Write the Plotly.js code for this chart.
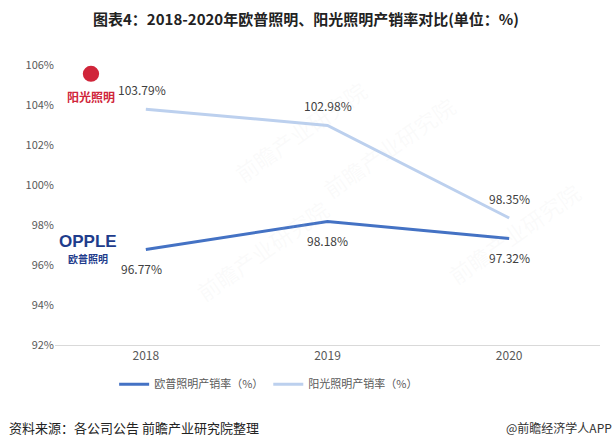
<!DOCTYPE html>
<html><head><meta charset="utf-8">
<script src="https://cdn.plot.ly/plotly-3.0.1.min.js"></script>
<style>body{margin:0;background:#fff}#c{width:612px;height:448px}</style>
</head><body><div id="c"></div>
<script>
const years = ['2018', '2019', '2020'];
const oppleRate = [96.77, 98.18, 97.32];
const yankonRate = [103.79, 102.98, 98.35];
const yTicks = [92, 94, 96, 98, 100, 102, 104, 106];
const seriesNames = ['欧普照明产销率（%）', '阳光照明产销率（%）'];

const font = 'Microsoft YaHei, "Noto Sans CJK SC", sans-serif';
const dark = '#4472c4', light = '#bcd0ee';

const traces = [
  {x: years, y: oppleRate, name: seriesNames[0], mode: 'lines', type: 'scatter',
   line: {color: dark, width: 3}},
  {x: years, y: yankonRate, name: seriesNames[1], mode: 'lines', type: 'scatter',
   line: {color: light, width: 3}}
];

const ann = [];
years.forEach((yr, i) => {
  ann.push({x: i, y: oppleRate[i], text: oppleRate[i].toFixed(2) + '%', showarrow: false,
    yshift: -19, xshift: i === 0 ? -4 : 0, font: {family: font, size: 12, color: '#404040'}});
  ann.push({x: i, y: yankonRate[i], text: yankonRate[i].toFixed(2) + '%', showarrow: false,
    yshift: 20, xshift: i === 0 ? -4 : 0, font: {family: font, size: 12, color: '#404040'}});
});
// logos as text
ann.push({xref: 'paper', yref: 'paper', x: 0.066, y: 0.889, text: '<b>阳光照明</b>', showarrow: false,
  font: {family: font, size: 12, color: '#d0253a'}, xanchor: 'center', yanchor: 'middle'});
ann.push({xref: 'paper', yref: 'paper', x: 0.06, y: 0.368, text: '<b>OPPLE</b>', showarrow: false,
  font: {family: 'Arial, sans-serif', size: 17, color: '#1e3c8c'}, xanchor: 'center', yanchor: 'middle'});
ann.push({xref: 'paper', yref: 'paper', x: 0.06, y: 0.31, text: '<b>欧普照明</b>', showarrow: false,
  font: {family: font, size: 10, color: '#1e3c8c'}, xanchor: 'center', yanchor: 'middle'});
// watermarks
const wm = [[0.38, 0.34], [0.75, 0.92], [0.98, 0.40], [0.45, 0.98]];
wm.forEach(p => ann.push({xref: 'paper', yref: 'paper', x: p[0], y: p[1], text: '前瞻产业研究院',
  showarrow: false, textangle: -35, font: {family: font, size: 22, color: 'rgba(210,210,210,0.10)'}}));
// footer
ann.push({xref: 'paper', yref: 'paper', x: -0.088, y: -0.295, xanchor: 'left', yanchor: 'middle',
  text: '资料来源：各公司公告 前瞻产业研究院整理', showarrow: false,
  font: {family: font, size: 13, color: '#222'}});
ann.push({xref: 'paper', yref: 'paper', x: 1.025, y: -0.295, xanchor: 'right', yanchor: 'middle',
  text: '@前瞻经济学人APP', showarrow: false, font: {family: font, size: 12, color: '#333'}});

const layout = {
  width: 612, height: 448,
  margin: {l: 55, r: 12, t: 65, b: 103},
  paper_bgcolor: '#fff', plot_bgcolor: '#fff',
  title: {text: '<b>图表4：2018-2020年欧普照明、阳光照明产销率对比(单位：%)</b>', x: 0.5, xanchor: 'center',
    y: 0.955, yanchor: 'middle', font: {family: font, size: 15, color: '#222'}},
  xaxis: {type: 'category', range: [-0.5, 2.5], showgrid: false, zeroline: false,
    showline: true, linecolor: '#d9d9d9', linewidth: 1, ticks: '',
    tickfont: {family: font, size: 12, color: '#595959'}},
  yaxis: {range: [92, 106], tickvals: yTicks, ticktext: yTicks.map(v => v + '%'),
    showgrid: false, zeroline: false, showline: false, ticks: '',
    tickfont: {family: font, size: 11, color: '#595959'}},
  shapes: [
    {type: 'circle', xref: 'paper', yref: 'paper', x0: 0.051, x1: 0.081, y0: 0.94, y1: 0.997,
     fillcolor: '#d0253a', line: {width: 0}}
  ],
  showlegend: true,
  legend: {orientation: 'h', x: 0.392, xanchor: 'center', y: -0.14, yanchor: 'middle',
    font: {family: font, size: 11, color: '#595959'}, traceorder: 'normal'},
  annotations: ann
};
Plotly.newPlot('c', traces, layout, {displayModeBar: false, staticPlot: true});
</script></body></html>
